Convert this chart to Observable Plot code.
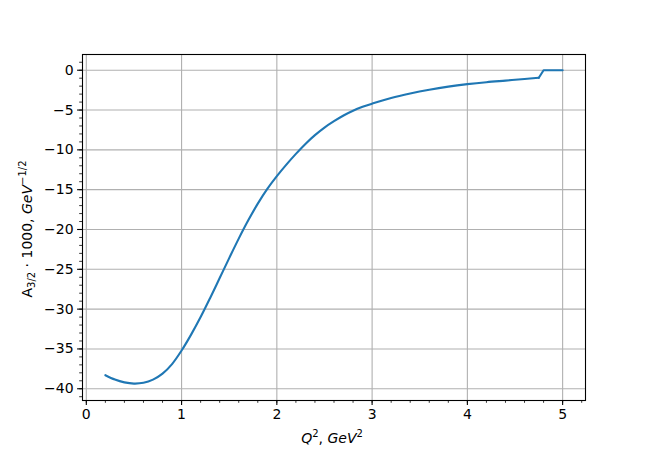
<!DOCTYPE html>
<html><head><meta charset="utf-8">
<script src="https://cdn.jsdelivr.net/npm/d3@7"></script>
<script src="https://cdn.jsdelivr.net/npm/@observablehq/plot@0.6"></script>
<style>body{margin:0;background:#fff} svg{display:block}</style>
</head><body><div id="chart"></div>
<script>
const q2 =  [0.2, 0.3, 0.4, 0.5, 0.6, 0.7, 0.8, 0.9, 1.0, 1.1, 1.2, 1.3, 1.4, 1.5, 1.6, 1.7, 1.8, 1.9, 2.0, 2.1, 2.2, 2.3, 2.4, 2.5, 2.6, 2.7, 2.8, 2.9, 3.0, 3.2, 3.4, 3.6, 3.8, 4.0, 4.2, 4.4, 4.6, 4.75, 4.8, 4.9, 5.0];
const a32 = [-38.3, -38.85, -39.2, -39.35, -39.25, -38.85, -38.1, -36.9, -35.2, -33.2, -31.0, -28.6, -26.1, -23.6, -21.15, -18.85, -16.75, -14.9, -13.3, -11.85, -10.5, -9.25, -8.15, -7.2, -6.4, -5.68, -5.08, -4.6, -4.2, -3.48, -2.92, -2.45, -2.06, -1.75, -1.5, -1.3, -1.1, -0.95, 0, 0, 0];
const xTicks = [0, 1, 2, 3, 4, 5];
const yTicks = [0, -5, -10, -15, -20, -25, -30, -35, -40];
const xMinor = d3.range(0, 5.21, 0.2).map(v => +v.toFixed(2));
const yMinor = d3.range(-41, 2, 1);

const data = q2.map((x, i) => ({x, y: a32[i]}));
const smooth = data.filter(d => d.x <= 4.75);
const tail = data.filter(d => d.x >= 4.75);
const fmt = d => d < 0 ? "\u2212" + (-d) : String(d);
const grid = "#b0b0b0";
const blue = "#1f77b4";

const plot = Plot.plot({
  width: 650, height: 450,
  marginLeft: 82, marginRight: 65, marginTop: 54, marginBottom: 50,
  style: {fontFamily: "DejaVu Sans", fontSize: "14px", color: "#000", background: "#fff"},
  x: {domain: [-0.04, 5.24]},
  y: {domain: [-41.475, 1.975]},
  marks: [
    Plot.gridX(xTicks, {stroke: grid, strokeOpacity: 1, strokeWidth: 1.1}),
    Plot.gridY(yTicks, {stroke: grid, strokeOpacity: 1, strokeWidth: 1.1}),
    Plot.line(smooth, {x: "x", y: "y", stroke: blue, strokeWidth: 2.1, curve: "catmull-rom"}),
    Plot.line(tail, {x: "x", y: "y", stroke: blue, strokeWidth: 2.1}),
    Plot.frame({stroke: "#000", strokeWidth: 1.1}),
    Plot.axisX({ticks: xTicks, tickSize: 4.9, tickPadding: 4, tickFormat: fmt, label: null, strokeWidth: 1.1, fontSize: 14}),
    Plot.axisX({ticks: xMinor, tickSize: 2.8, text: null, label: null, strokeWidth: 0.8}),
    Plot.axisY({ticks: yTicks, tickSize: 4.9, tickPadding: 4, tickFormat: fmt, label: null, strokeWidth: 1.1, fontSize: 14}),
    Plot.axisY({ticks: yMinor, tickSize: 2.8, text: null, label: null, strokeWidth: 0.8})
  ]
});
document.getElementById("chart").appendChild(plot);

const svg = d3.select(plot);
// x label
const xl = svg.append("text")
  .attr("x", 332).attr("y", 443)
  .attr("text-anchor", "middle")
  .attr("font-family", "DejaVu Sans").attr("font-size", 14).attr("fill", "#000");
xl.append("tspan").attr("font-style", "italic").text("Q");
xl.append("tspan").attr("font-size", 10).attr("dy", -6).text("2");
xl.append("tspan").attr("dy", 6).text(", ");
xl.append("tspan").attr("font-style", "italic").text("GeV");
xl.append("tspan").attr("font-size", 10).attr("dy", -6).text("2");

// y label
const yl = svg.append("text")
  .attr("transform", "translate(32,229) rotate(-90)")
  .attr("text-anchor", "middle")
  .attr("font-family", "DejaVu Sans").attr("font-size", 14).attr("fill", "#000");
yl.append("tspan").text("A");
yl.append("tspan").attr("font-size", 10).attr("dy", 3).text("3/2");
yl.append("tspan").attr("dy", -3).text(" \u00b7 1000, ");
yl.append("tspan").attr("font-style", "italic").text("GeV");
yl.append("tspan").attr("font-size", 10).attr("dy", -6).text("\u22121/2");
</script>
</body></html>
